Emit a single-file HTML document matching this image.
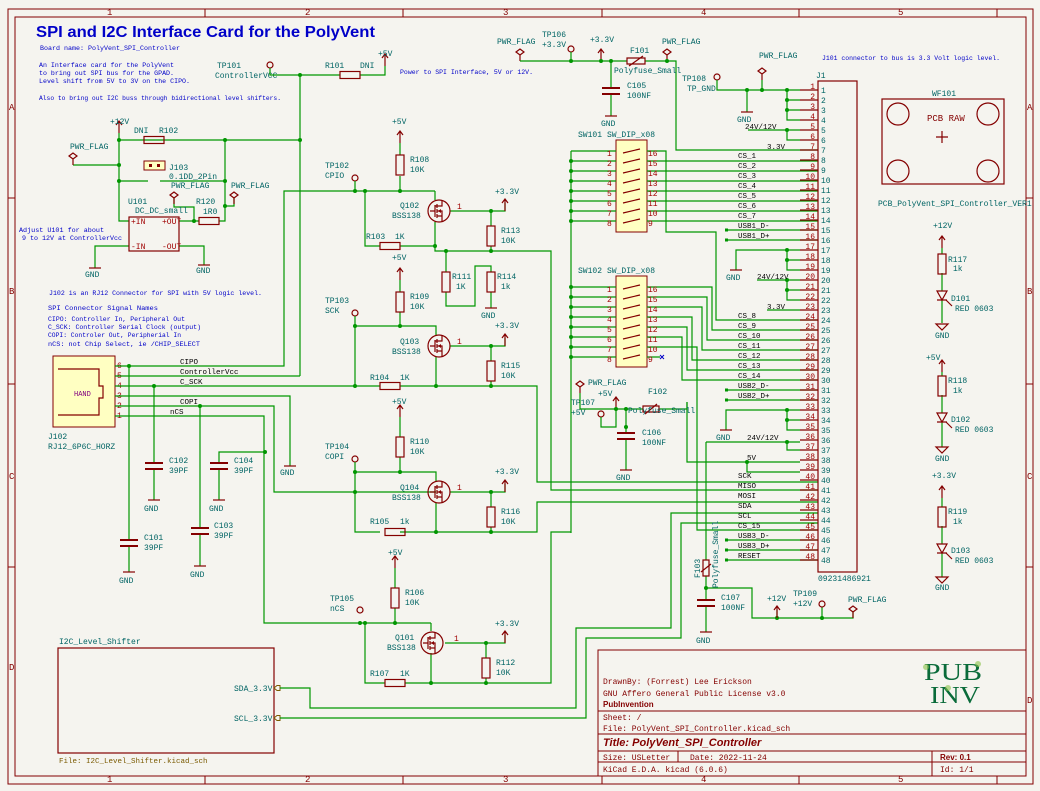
<!DOCTYPE html>
<html><head><meta charset="utf-8"><style>
html,body{margin:0;padding:0;background:#f5f4ef;}
svg{display:block;font-family:"Liberation Mono","DejaVu Sans Mono",monospace;}
.w{stroke:#009600;stroke-width:1.2;fill:none}
.c{stroke:#840000;stroke-width:1.2;fill:none}
.b{stroke:#840000;stroke-width:1;fill:none}
.t{fill:#006464;font-size:8px}
.n{fill:#0000c8;font-size:6.6px}
.k{fill:#000;font-size:7.5px}
.p{fill:#a00000;font-size:8px}
.r{fill:#840000;font-size:9px}
</style></head><body>
<svg width="1040" height="791" viewBox="0 0 1040 791" xmlns="http://www.w3.org/2000/svg">
<defs>
<g id="rv"><rect x="-4" y="-10" width="8" height="20" class="c"/></g>
<g id="rh"><rect x="-10" y="-3.5" width="20" height="7" class="c"/></g>
<g id="gnd"><line x1="-6" y1="0" x2="6" y2="0" class="c"/></g>
<g id="up"><path d="M0,0 V-12 M-3,-8 L0,-12 L3,-8" class="c"/></g>
<g id="flag"><path d="M0,0 V-6 M-4,-9 L0,-12 L4,-9 L0,-6 Z" class="c"/></g>
<g id="tp"><circle cx="0" cy="-3" r="3" class="c"/></g>
<g id="dot"><circle r="2" fill="#009600"/></g>
<g id="cap"><path d="M-9,-3 H9 M-9,3 H9" stroke="#840000" stroke-width="2"/></g>
<g id="q"><circle r="11" class="c"/><path d="M-4,-6 V6 M-2,-7 V-3 M-2,-2 V2 M-2,3 V7 M-2,-5 H-4 M-2,5 H3 V11 M-2,-5 H3 V-11 M-2,0 H3 V5 M-6,0 H-9 M-4,0 H-9" class="c"/><path d="M-1,0 L2,-2 L2,2 Z" fill="#840000"/></g>
<g id="led"><path d="M-5,-5 H5 L0,4 Z M-5,4 H5" class="c"/><path d="M4,4 L8,8 M6,6 L10,10" class="c"/></g>
<g id="gtri"><path d="M-6,0 H6 L0,6 Z" class="c"/></g>
</defs>

<!-- borders -->
<rect x="8" y="9" width="1025" height="775" class="b"/>
<rect x="15" y="17" width="1011" height="759" class="b"/>
<g class="b">
<path d="M205,9V17 M403,9V17 M602,9V17 M799,9V17 M997,9V17 M205,776V784 M403,776V784 M602,776V784 M799,776V784 M997,776V784 M8,198H15 M8,384H15 M8,567H15 M1026,198H1033 M1026,384H1033 M1026,567H1033"/>
</g>
<g class="r" font-size="8">
<text x="107" y="15">1</text><text x="305" y="15">2</text><text x="503" y="15">3</text><text x="701" y="15">4</text><text x="898" y="15">5</text>
<text x="107" y="782">1</text><text x="305" y="782">2</text><text x="503" y="782">3</text><text x="701" y="782">4</text><text x="898" y="782">5</text>
<text x="9" y="110">A</text><text x="9" y="294">B</text><text x="9" y="479">C</text><text x="9" y="670">D</text>
<text x="1027" y="110">A</text><text x="1027" y="294">B</text><text x="1027" y="479">C</text><text x="1027" y="703">D</text>
</g>

<!-- notes -->
<text x="36" y="37" fill="#0000c8" font-size="16" font-weight="bold" font-family="Liberation Sans,sans-serif" textLength="339" lengthAdjust="spacingAndGlyphs">SPI and I2C Interface Card for the PolyVent</text>
<text x="40" y="50" class="n" textLength="140" lengthAdjust="spacingAndGlyphs">Board name: PolyVent_SPI_Controller</text>
<text x="39" y="67" class="n" textLength="135" lengthAdjust="spacingAndGlyphs">An Interface card for the PolyVent</text>
<text x="39" y="75" class="n" textLength="135" lengthAdjust="spacingAndGlyphs">to bring out SPI bus for the GPAD.</text>
<text x="39" y="83" class="n" textLength="151" lengthAdjust="spacingAndGlyphs">Level shift from 5V to 3V on the CIPO.</text>
<text x="39" y="100" class="n" textLength="242" lengthAdjust="spacingAndGlyphs">Also to bring out I2C buss through bidirectional level shifters.</text>
<text x="400" y="74" class="n" textLength="133" lengthAdjust="spacingAndGlyphs">Power to SPI Interface, 5V or 12V.</text>
<text x="19" y="232" class="n" textLength="85" lengthAdjust="spacingAndGlyphs">Adjust U101 for about</text>
<text x="22" y="240" class="n" textLength="100" lengthAdjust="spacingAndGlyphs">9 to 12V at ControllerVcc</text>
<text x="49" y="295" class="n" textLength="213" lengthAdjust="spacingAndGlyphs">J102 is an RJ12 Connector for SPI with 5V logic level.</text>
<text x="48" y="310" class="n" textLength="110" lengthAdjust="spacingAndGlyphs">SPI Connector Signal Names</text>
<text x="48" y="321" class="n" textLength="137" lengthAdjust="spacingAndGlyphs">CIPO: Controller In, Peripheral Out</text>
<text x="48" y="329" class="n" textLength="153" lengthAdjust="spacingAndGlyphs">C_SCK: Controller Serial Clock (output)</text>
<text x="48" y="337" class="n" textLength="133" lengthAdjust="spacingAndGlyphs">COPI: Controler Out, Peripherial In</text>
<text x="48" y="346" class="n" textLength="152" lengthAdjust="spacingAndGlyphs">nCS: not Chip Select, ie /CHIP_SELECT</text>
<text x="822" y="60" class="n" textLength="178" lengthAdjust="spacingAndGlyphs">J101 connector to bus is 3.3 Volt logic level.</text>

<!-- top-left power section -->
<use href="#tp" x="270" y="68"/>
<text x="217" y="68" class="t">TP101</text><text x="215" y="78" class="t">ControllerVCC</text>
<path class="w" d="M270,68V75H340 M360,75H385V66 M300,75V376 M119,140H300 M119,133V221H129 M73,165H119 M119,181H148 M160,181H225 M225,140V221H219 M179,221H199 M174,198V207H194V221 M234,198V206H225 M129,246H95V268 M179,246H204V265"/>
<use href="#rh" x="350" y="75"/><use href="#up" x="385" y="66"/>
<text x="325" y="68" class="t">R101</text><text x="360" y="68" class="t">DNI</text><text x="378" y="56" class="t">+5V</text>
<use href="#dot" x="300" y="75"/><use href="#dot" x="300" y="140"/><use href="#dot" x="225" y="140"/><use href="#dot" x="119" y="140"/><use href="#dot" x="119" y="165"/><use href="#dot" x="119" y="181"/><use href="#dot" x="225" y="181"/><use href="#dot" x="225" y="206"/><use href="#dot" x="194" y="221"/>
<use href="#rh" x="154" y="140"/><use href="#up" x="119" y="133"/>
<text x="110" y="124" class="t">+12V</text><text x="134" y="133" class="t">DNI</text><text x="159" y="133" class="t">R102</text>
<use href="#flag" x="73" y="165"/><text x="70" y="149" class="t">PWR_FLAG</text>
<rect x="144" y="161" width="21" height="9" fill="#ffffc2" stroke="#840000"/><rect x="149" y="164" width="3" height="3" fill="#840000"/><rect x="157" y="164" width="3" height="3" fill="#840000"/>
<text x="169" y="170" class="t">J103</text><text x="169" y="179" class="t">0.1DD_2Pin</text>
<use href="#flag" x="174" y="204"/><text x="171" y="188" class="t">PWR_FLAG</text>
<use href="#flag" x="234" y="204"/><text x="231" y="188" class="t">PWR_FLAG</text>
<rect x="129" y="217" width="50" height="34" class="c"/>
<text x="128" y="204" class="t" font-size="9">U101</text><text x="135" y="213" class="t" font-size="5">DC_DC_small</text>
<text x="131" y="224" class="p" font-size="5.5">+IN</text><text x="162" y="224" class="p" font-size="5.5">+OUT</text><text x="131" y="249" class="p" font-size="5.5">-IN</text><text x="162" y="249" class="p" font-size="5.5">-OUT</text>
<use href="#rh" x="209" y="221"/><text x="196" y="204" class="t">R120</text><text x="203" y="214" class="t">1R0</text>
<use href="#gnd" x="95" y="268"/><text x="85" y="277" class="t" font-size="9">GND</text>
<use href="#gnd" x="204" y="265"/><text x="196" y="273" class="t" font-size="9">GND</text>

<!-- J102 -->
<rect x="53" y="356" width="62" height="71" fill="#ffffc2" stroke="#840000"/>
<path d="M58,369H99V386H103V398H99V415H58" class="c"/>
<text x="74" y="396" fill="#800080" font-size="7">HAND</text>
<text x="48" y="439" class="t">J102</text><text x="48" y="449" class="t">RJ12_6P6C_HORZ</text>
<g class="p"><text x="117" y="368">6</text><text x="117" y="378">5</text><text x="117" y="388">4</text><text x="117" y="398">3</text><text x="117" y="408">2</text><text x="117" y="418">1</text></g>
<path class="w" d="M115,366H284V191H435 M115,376H300 M115,386H380 M400,386H537V482H818 M115,396H290V466 M115,406H274V492H436 M115,416H264V623H431 M129,366V540 M129,546V572 M154,386V463 M154,469V500 M200,406V528 M200,534V566 M265,452H219V463 M219,469V500"/>
<text x="180" y="364" class="k">CIPO</text><text x="180" y="374" class="k">ControllerVcc</text><text x="180" y="384" class="k">C_SCK</text><text x="180" y="404" class="k">COPI</text><text x="170" y="414" class="k">nCS</text>
<use href="#dot" x="129" y="366"/><use href="#dot" x="154" y="386"/><use href="#dot" x="200" y="406"/><use href="#dot" x="265" y="452"/>
<use href="#cap" x="129" y="543"/><text x="144" y="540" class="t">C101</text><text x="144" y="550" class="t">39PF</text>
<use href="#cap" x="154" y="466"/><text x="169" y="463" class="t">C102</text><text x="169" y="473" class="t">39PF</text>
<use href="#cap" x="200" y="531"/><text x="214" y="528" class="t">C103</text><text x="214" y="538" class="t">39PF</text>
<use href="#cap" x="219" y="466"/><text x="234" y="463" class="t">C104</text><text x="234" y="473" class="t">39PF</text>
<use href="#gnd" x="129" y="572"/><text x="119" y="583" class="t" font-size="9">GND</text>
<use href="#gnd" x="154" y="500"/><text x="144" y="511" class="t" font-size="9">GND</text>
<use href="#gnd" x="200" y="566"/><text x="190" y="577" class="t" font-size="9">GND</text>
<use href="#gnd" x="219" y="500"/><text x="209" y="511" class="t" font-size="9">GND</text>
<use href="#gnd" x="290" y="466"/><text x="280" y="475" class="t" font-size="9">GND</text>

<!-- Q102 block -->
<use href="#tp" x="355" y="181"/><text x="325" y="168" class="t">TP102</text><text x="325" y="178" class="t">CPIO</text>
<path class="w" d="M355,181V191 M400,191V176 M400,155V143 M365,191V246H380 M400,246H435 M435,200V191 M435,222V251H551V490H818 M450,211H491H505V203 M491,211V226 M491,246V251 M446,251V272 M446,292V306H475V266H491V272 M491,292V308"/>
<use href="#dot" x="355" y="191"/><use href="#dot" x="365" y="191"/><use href="#dot" x="400" y="191"/><use href="#dot" x="435" y="246"/><use href="#dot" x="446" y="251"/><use href="#dot" x="491" y="251"/><use href="#dot" x="491" y="211"/>
<use href="#rv" x="400" y="165"/><use href="#up" x="400" y="143"/><text x="392" y="124" class="t">+5V</text><text x="410" y="162" class="t">R108</text><text x="410" y="172" class="t">10K</text>
<use href="#q" x="439" y="211"/><text x="400" y="208" class="t">Q102</text><text x="392" y="218" class="t">BSS138</text><text x="457" y="209" class="p">1</text>
<use href="#up" x="505" y="211"/><text x="495" y="194" class="t">+3.3V</text>
<use href="#rv" x="491" y="236"/><text x="501" y="233" class="t">R113</text><text x="501" y="243" class="t">10K</text>
<use href="#rh" x="390" y="246"/><text x="366" y="239" class="t">R103</text><text x="395" y="239" class="t">1K</text>
<use href="#rv" x="446" y="282"/><text x="452" y="279" class="t">R111</text><text x="456" y="289" class="t">1K</text>
<use href="#rv" x="491" y="282"/><text x="497" y="279" class="t">R114</text><text x="501" y="289" class="t">1k</text>
<use href="#gnd" x="491" y="308"/><text x="481" y="318" class="t" font-size="9">GND</text>

<!-- Q103 block -->
<text x="392" y="260" class="t">+5V</text><use href="#up" x="400" y="280"/>
<use href="#tp" x="355" y="316"/><text x="325" y="303" class="t">TP103</text><text x="325" y="313" class="t">SCK</text>
<path class="w" d="M400,280V292 M400,312V326 M355,316V386 M355,326H436V336 M436,357V386 M450,346H491H505V338 M491,346V361 M491,381V386"/>
<use href="#rv" x="400" y="302"/><text x="410" y="299" class="t">R109</text><text x="410" y="309" class="t">10K</text>
<use href="#q" x="439" y="346"/><text x="400" y="344" class="t">Q103</text><text x="392" y="354" class="t">BSS138</text><text x="457" y="344" class="p">1</text>
<use href="#up" x="505" y="346"/><text x="495" y="328" class="t">+3.3V</text>
<use href="#rv" x="491" y="371"/><text x="501" y="368" class="t">R115</text><text x="501" y="378" class="t">10K</text>
<use href="#rh" x="390" y="386"/><text x="370" y="380" class="t">R104</text><text x="400" y="380" class="t">1K</text>
<use href="#dot" x="355" y="326"/><use href="#dot" x="400" y="326"/><use href="#dot" x="355" y="386"/><use href="#dot" x="436" y="386"/><use href="#dot" x="491" y="386"/><use href="#dot" x="491" y="346"/>

<!-- Q104 block -->
<text x="392" y="404" class="t">+5V</text><use href="#up" x="400" y="417"/>
<use href="#tp" x="355" y="462"/><text x="325" y="449" class="t">TP104</text><text x="325" y="459" class="t">COPI</text>
<path class="w" d="M400,417V437 M400,457V472 M355,462V532H380 M355,472H436V482 M436,503V532 M400,532H537V502H818 M450,492H491H505V484 M491,492V507 M491,527V532"/>
<use href="#rv" x="400" y="447"/><text x="410" y="444" class="t">R110</text><text x="410" y="454" class="t">10K</text>
<use href="#q" x="439" y="492"/><text x="400" y="490" class="t">Q104</text><text x="392" y="500" class="t">BSS138</text><text x="457" y="490" class="p">1</text>
<use href="#up" x="505" y="492"/><text x="495" y="474" class="t">+3.3V</text>
<use href="#rv" x="491" y="517"/><text x="501" y="514" class="t">R116</text><text x="501" y="524" class="t">10K</text>
<use href="#rh" x="395" y="532"/><text x="370" y="524" class="t">R105</text><text x="400" y="524" class="t">1k</text>
<use href="#dot" x="355" y="472"/><use href="#dot" x="400" y="472"/><use href="#dot" x="355" y="492"/><use href="#dot" x="436" y="532"/><use href="#dot" x="491" y="532"/><use href="#dot" x="491" y="492"/>

<!-- Q101 block -->
<text x="388" y="555" class="t">+5V</text><use href="#up" x="395" y="568"/>
<use href="#tp" x="360" y="613"/><text x="330" y="601" class="t">TP105</text><text x="330" y="611" class="t">nCS</text>
<path class="w" d="M395,568V588 M395,608V623 M365,623V683H385 M405,683H551V532H571 M431,623V631 M431,653V683 M445,643H486H505V635 M486,643V658 M486,678V683"/>
<use href="#rv" x="395" y="598"/><text x="405" y="595" class="t">R106</text><text x="405" y="605" class="t">10K</text>
<use href="#q" x="432" y="643"/><text x="395" y="640" class="t">Q101</text><text x="387" y="650" class="t">BSS138</text><text x="454" y="641" class="p">1</text>
<use href="#up" x="505" y="643"/><text x="495" y="626" class="t">+3.3V</text>
<use href="#rv" x="486" y="668"/><text x="496" y="665" class="t">R112</text><text x="496" y="675" class="t">10K</text>
<use href="#rh" x="395" y="683"/><text x="370" y="676" class="t">R107</text><text x="400" y="676" class="t">1K</text>
<use href="#dot" x="360" y="623"/><use href="#dot" x="365" y="623"/><use href="#dot" x="395" y="623"/><use href="#dot" x="431" y="683"/><use href="#dot" x="486" y="683"/><use href="#dot" x="486" y="643"/>

<!-- I2C sheet -->
<rect x="58" y="648" width="216" height="105" class="c"/>
<text x="59" y="644" class="t">I2C_Level_Shifter</text>
<text x="59" y="763" fill="#7a5a00" font-size="7.5">File: I2C_Level_Shifter.kicad_sch</text>
<text x="234" y="691" class="t">SDA_3.3V</text><text x="234" y="721" class="t">SCL_3.3V</text>
<path d="M274,688l3,-2.5h3v5h-3z M274,718l3,-2.5h3v5h-3z" stroke="#7a5a00" fill="none"/>
<path class="w" d="M280,688H310V708H576V628H671V513H818 M280,718H586V638H681V523H818"/>

<!-- top power F101 -->
<use href="#flag" x="520" y="61"/><text x="497" y="44" class="t">PWR_FLAG</text>
<use href="#tp" x="571" y="52"/><text x="542" y="37" class="t">TP106</text><text x="542" y="47" class="t">+3.3V</text>
<use href="#up" x="601" y="61"/><text x="590" y="42" class="t">+3.3V</text>
<path class="w" d="M520,61H627 M645,61H676V150H818 M571,52V61 M611,61V88 M611,94V116"/>
<path d="M627,58H645V64H627Z M629,66L643,56" class="c"/>
<text x="630" y="53" class="t">F101</text><text x="614" y="73" class="t">Polyfuse_Small</text>
<use href="#flag" x="667" y="61"/><text x="662" y="44" class="t">PWR_FLAG</text>
<use href="#dot" x="571" y="61"/><use href="#dot" x="601" y="61"/><use href="#dot" x="611" y="61"/><use href="#dot" x="667" y="61"/>
<use href="#cap" x="611" y="91"/><text x="627" y="88" class="t">C105</text><text x="627" y="98" class="t">100NF</text>
<use href="#gnd" x="611" y="116"/><text x="601" y="126" class="t" font-size="9">GND</text>

<!-- J1 top GND -->
<use href="#tp" x="717" y="80"/><text x="682" y="81" class="t">TP108</text><text x="687" y="91" class="t">TP_GND</text>
<use href="#flag" x="762" y="80"/><text x="759" y="58" class="t">PWR_FLAG</text>
<path class="w" d="M717,80V90H800 M747,90V112 M762,80V90 M787,90V120H800 M787,100H800 M787,110H800 M748,130H800 M787,130V140H800 M736,270V250H800 M787,250V270H800 M787,260H800 M757,280H800 M787,280V300H800 M787,290H800 M767,310H800 M726,430V410H800 M787,410V430H800 M787,420H800 M706,442H800 M787,442V450H800 M687,402V462H800 M747,462V472H800"/>
<use href="#gnd" x="747" y="112"/><text x="737" y="122" class="t" font-size="9">GND</text>
<use href="#gnd" x="736" y="270"/><text x="726" y="280" class="t" font-size="9">GND</text>
<use href="#gnd" x="726" y="430"/><text x="716" y="440" class="t" font-size="9">GND</text>
<g fill="#009600"><circle cx="747" cy="90" r="2"/><circle cx="762" cy="90" r="2"/><circle cx="787" cy="90" r="2"/><circle cx="787" cy="100" r="2"/><circle cx="787" cy="110" r="2"/><circle cx="787" cy="130" r="2"/><circle cx="787" cy="250" r="2"/><circle cx="787" cy="260" r="2"/><circle cx="787" cy="280" r="2"/><circle cx="787" cy="290" r="2"/><circle cx="787" cy="410" r="2"/><circle cx="787" cy="420" r="2"/><circle cx="787" cy="442" r="2"/><circle cx="747" cy="462" r="2"/></g>
<text x="745" y="129" class="k">24V/12V</text><text x="767" y="149" class="k">3.3V</text>
<text x="757" y="279" class="k">24V/12V</text><text x="767" y="309" class="k">3.3V</text>
<text x="747" y="440" class="k">24V/12V</text><text x="747" y="460" class="k">5V</text>

<!-- SW101 / SW102 -->
<rect x="616" y="140" width="31" height="92" fill="#ffffc2" stroke="#840000"/>
<rect x="616" y="276" width="31" height="91" fill="#ffffc2" stroke="#840000"/>
<text x="578" y="137" class="t">SW101</text><text x="607" y="137" class="t">SW_DIP_x08</text>
<text x="578" y="273" class="t">SW102</text><text x="607" y="273" class="t">SW_DIP_x08</text>
<g class="c" stroke-width="0.8">
<path d="M623,153l17,-4 M623,163l17,-4 M623,173l17,-4 M623,183l17,-4 M623,193l17,-4 M623,203l17,-4 M623,213l17,-4 M623,223l17,-4"/>
<path d="M623,289l17,-4 M623,299l17,-4 M623,309l17,-4 M623,319l17,-4 M623,329l17,-4 M623,339l17,-4 M623,349l17,-4 M623,359l17,-4"/>
</g>
<path class="w" d="M571,151V533 M571,151H616 M571,161H616 M571,171H616 M571,181H616 M571,191H616 M571,201H616 M571,211H616 M571,221H616 M571,287H616 M571,297H616 M571,307H616 M571,317H616 M571,327H616 M571,337H616 M571,347H616 M571,357H616
M647,151H666V232H716V320H818 M647,161H818 M647,171H818 M647,181H818 M647,191H818 M647,201H818 M647,211H818 M647,221H818
M647,287H712V330H818 M647,297H707V340H818 M647,307H702V350H818 M647,317H692V360H818 M647,327H687V370H818 M647,337H682V380H818 M647,347H697V530H818 M647,357H660"/>
<path d="M660,355l4,4 M664,355l-4,4" stroke="#0000c8"/>
<g fill="#009600"><circle cx="571" cy="161" r="2"/><circle cx="571" cy="171" r="2"/><circle cx="571" cy="181" r="2"/><circle cx="571" cy="191" r="2"/><circle cx="571" cy="201" r="2"/><circle cx="571" cy="211" r="2"/><circle cx="571" cy="221" r="2"/><circle cx="571" cy="287" r="2"/><circle cx="571" cy="297" r="2"/><circle cx="571" cy="307" r="2"/><circle cx="571" cy="317" r="2"/><circle cx="571" cy="327" r="2"/><circle cx="571" cy="337" r="2"/><circle cx="571" cy="347" r="2"/><circle cx="571" cy="357" r="2"/></g>
<g class="p" font-size="7.5">
<text x="607" y="156">1</text><text x="607" y="166">2</text><text x="607" y="176">3</text><text x="607" y="186">4</text><text x="607" y="196">5</text><text x="607" y="206">6</text><text x="607" y="216">7</text><text x="607" y="226">8</text>
<text x="648" y="156">16</text><text x="648" y="166">15</text><text x="648" y="176">14</text><text x="648" y="186">13</text><text x="648" y="196">12</text><text x="648" y="206">11</text><text x="648" y="216">10</text><text x="648" y="226">9</text>
<text x="607" y="292">1</text><text x="607" y="302">2</text><text x="607" y="312">3</text><text x="607" y="322">4</text><text x="607" y="332">5</text><text x="607" y="342">6</text><text x="607" y="352">7</text><text x="607" y="362">8</text>
<text x="648" y="292">16</text><text x="648" y="302">15</text><text x="648" y="312">14</text><text x="648" y="322">13</text><text x="648" y="332">12</text><text x="648" y="342">11</text><text x="648" y="352">10</text><text x="648" y="362">9</text>
</g>

<!-- USB stubs etc -->
<path class="w" d="M727,230H818 M727,240H818 M727,390H818 M727,400H818 M727,540H818 M727,550H818 M727,560H818"/>
<g fill="#009600"><rect x="725" y="228.5" width="3" height="3"/><rect x="725" y="238.5" width="3" height="3"/><rect x="725" y="388.5" width="3" height="3"/><rect x="725" y="398.5" width="3" height="3"/><rect x="725" y="538.5" width="3" height="3"/><rect x="725" y="548.5" width="3" height="3"/><rect x="725" y="558.5" width="3" height="3"/></g>

<!-- J1 labels -->
<g class="k">
<text x="738" y="158">CS_1</text><text x="738" y="168">CS_2</text><text x="738" y="178">CS_3</text><text x="738" y="188">CS_4</text><text x="738" y="198">CS_5</text><text x="738" y="208">CS_6</text><text x="738" y="218">CS_7</text>
<text x="738" y="228">USB1_D-</text><text x="738" y="238">USB1_D+</text>
<text x="738" y="318">CS_8</text><text x="738" y="328">CS_9</text><text x="738" y="338">CS_10</text><text x="738" y="348">CS_11</text><text x="738" y="358">CS_12</text><text x="738" y="368">CS_13</text><text x="738" y="378">CS_14</text>
<text x="738" y="388">USB2_D-</text><text x="738" y="398">USB2_D+</text>
<text x="738" y="478">SCK</text><text x="738" y="488">MISO</text><text x="738" y="498">MOSI</text><text x="738" y="508">SDA</text><text x="738" y="518">SCL</text><text x="738" y="528">CS_15</text>
<text x="738" y="538">USB3_D-</text><text x="738" y="548">USB3_D+</text><text x="738" y="558">RESET</text>
</g>

<!-- J1 -->
<rect x="818" y="81" width="39" height="491" class="c"/>
<text x="816" y="78" class="t" font-size="10">J1</text>
<text x="818" y="581" class="t" font-size="9.5">09231486921</text>
<g class="c" stroke-width="1">
<path d="M800,90H818M800,100H818M800,110H818M800,120H818M800,130H818M800,140H818M800,150H818M800,160H818M800,170H818M800,180H818M800,190H818M800,200H818M800,210H818M800,220H818M800,230H818M800,240H818M800,250H818M800,260H818M800,270H818M800,280H818M800,290H818M800,300H818M800,310H818M800,320H818M800,330H818M800,340H818M800,350H818M800,360H818M800,370H818M800,380H818M800,390H818M800,400H818M800,410H818M800,420H818M800,430H818M800,440H818M800,450H818M800,460H818M800,470H818M800,480H818M800,490H818M800,500H818M800,510H818M800,520H818M800,530H818M800,540H818M800,550H818M800,560H818"/>
</g>
<g class="p" font-size="7.5" text-anchor="end">
<text x="815" y="89">1</text><text x="815" y="99">2</text><text x="815" y="109">3</text><text x="815" y="119">4</text><text x="815" y="129">5</text><text x="815" y="139">6</text><text x="815" y="149">7</text><text x="815" y="159">8</text><text x="815" y="169">9</text><text x="815" y="179">10</text><text x="815" y="189">11</text><text x="815" y="199">12</text><text x="815" y="209">13</text><text x="815" y="219">14</text><text x="815" y="229">15</text><text x="815" y="239">16</text><text x="815" y="249">17</text><text x="815" y="259">18</text><text x="815" y="269">19</text><text x="815" y="279">20</text><text x="815" y="289">21</text><text x="815" y="299">22</text><text x="815" y="309">23</text><text x="815" y="319">24</text><text x="815" y="329">25</text><text x="815" y="339">26</text><text x="815" y="349">27</text><text x="815" y="359">28</text><text x="815" y="369">29</text><text x="815" y="379">30</text><text x="815" y="389">31</text><text x="815" y="399">32</text><text x="815" y="409">33</text><text x="815" y="419">34</text><text x="815" y="429">35</text><text x="815" y="439">36</text><text x="815" y="449">37</text><text x="815" y="459">38</text><text x="815" y="469">39</text><text x="815" y="479">40</text><text x="815" y="489">41</text><text x="815" y="499">42</text><text x="815" y="509">43</text><text x="815" y="519">44</text><text x="815" y="529">45</text><text x="815" y="539">46</text><text x="815" y="549">47</text><text x="815" y="559">48</text>
</g>
<g class="t" font-size="7.5">
<text x="821" y="93">1</text><text x="821" y="103">2</text><text x="821" y="113">3</text><text x="821" y="123">4</text><text x="821" y="133">5</text><text x="821" y="143">6</text><text x="821" y="153">7</text><text x="821" y="163">8</text><text x="821" y="173">9</text><text x="821" y="183">10</text><text x="821" y="193">11</text><text x="821" y="203">12</text><text x="821" y="213">13</text><text x="821" y="223">14</text><text x="821" y="233">15</text><text x="821" y="243">16</text><text x="821" y="253">17</text><text x="821" y="263">18</text><text x="821" y="273">19</text><text x="821" y="283">20</text><text x="821" y="293">21</text><text x="821" y="303">22</text><text x="821" y="313">23</text><text x="821" y="323">24</text><text x="821" y="333">25</text><text x="821" y="343">26</text><text x="821" y="353">27</text><text x="821" y="363">28</text><text x="821" y="373">29</text><text x="821" y="383">30</text><text x="821" y="393">31</text><text x="821" y="403">32</text><text x="821" y="413">33</text><text x="821" y="423">34</text><text x="821" y="433">35</text><text x="821" y="443">36</text><text x="821" y="453">37</text><text x="821" y="463">38</text><text x="821" y="473">39</text><text x="821" y="483">40</text><text x="821" y="493">41</text><text x="821" y="503">42</text><text x="821" y="513">43</text><text x="821" y="523">44</text><text x="821" y="533">45</text><text x="821" y="543">46</text><text x="821" y="553">47</text><text x="821" y="563">48</text>
</g>

<!-- F102 area -->
<use href="#flag" x="580" y="393"/><text x="588" y="385" class="t">PWR_FLAG</text>
<use href="#up" x="616" y="409"/><text x="598" y="396" class="t">+5V</text>
<use href="#tp" x="601" y="417"/><text x="571" y="405" class="t">TP107</text><text x="571" y="415" class="t">+5V</text>
<path class="w" d="M580,393V409H643 M659,409H687V402 M601,417V427H616V409 M626,409V433 M626,439V470"/>
<path d="M643,406H659V412H643Z M645,414L657,404" class="c"/>
<text x="648" y="394" class="t">F102</text><text x="628" y="413" class="t">Polyfuse_Small</text>
<use href="#dot" x="616" y="409"/><use href="#dot" x="626" y="409"/><use href="#dot" x="626" y="427"/>
<use href="#cap" x="626" y="436"/><text x="642" y="435" class="t">C106</text><text x="642" y="445" class="t">100NF</text>
<use href="#gnd" x="626" y="470"/><text x="616" y="480" class="t" font-size="9">GND</text>

<!-- F103 area -->
<path class="w" d="M706,442V560 M706,576V600 M706,606V632 M706,588H752V618H853V611 M777,618V610 M822,618V607"/>
<path d="M703,560H709V576H703Z M701,572L711,564" class="c"/>
<text x="700" y="578" class="t" transform="rotate(-90 700 578)">F103</text>
<text x="718" y="588" class="t" transform="rotate(-90 718 588)">Polyfuse_Small</text>
<use href="#dot" x="706" y="588"/><use href="#dot" x="777" y="618"/><use href="#dot" x="822" y="618"/>
<use href="#cap" x="706" y="603"/><text x="721" y="600" class="t">C107</text><text x="721" y="610" class="t">100NF</text>
<use href="#gnd" x="706" y="632"/><text x="696" y="643" class="t" font-size="9">GND</text>
<use href="#up" x="777" y="618"/><text x="767" y="601" class="t">+12V</text>
<use href="#tp" x="822" y="607"/><text x="793" y="596" class="t">TP109</text><text x="793" y="606" class="t">+12V</text>
<use href="#flag" x="853" y="618"/><text x="848" y="602" class="t">PWR_FLAG</text>

<!-- WF101 -->
<rect x="882" y="99" width="122" height="85" class="c"/>
<g class="c"><circle cx="898" cy="114" r="11"/><circle cx="988" cy="114" r="11"/><circle cx="898" cy="171" r="11"/><circle cx="988" cy="171" r="11"/><path d="M936,137H948M942,131V143"/></g>
<text x="927" y="121" class="r" font-size="7">PCB RAW</text>
<text x="932" y="96" class="t">WF101</text>
<text x="878" y="206" class="t" font-size="7.5">PCB_PolyVent_SPI_Controller_VER1</text>

<!-- LEDs -->
<g>
<text x="933" y="228" class="t">+12V</text><use href="#up" x="942" y="248"/>
<path class="w" d="M942,248V254 M942,273V291 M942,300V323"/>
<use href="#rv" x="942" y="264"/><text x="948" y="262" class="t">R117</text><text x="953" y="271" class="t">1k</text>
<use href="#led" x="942" y="296"/><text x="951" y="301" class="t" font-size="9">D101</text><text x="955" y="311" class="t" font-size="9">RED 0603</text>
<use href="#gtri" x="942" y="324"/><text x="935" y="338" class="t">GND</text>

<text x="926" y="360" class="t">+5V</text><use href="#up" x="942" y="372"/>
<path class="w" d="M942,372V376 M942,395V413 M942,422V447"/>
<use href="#rv" x="942" y="386"/><text x="948" y="383" class="t">R118</text><text x="953" y="393" class="t">1k</text>
<use href="#led" x="942" y="418"/><text x="951" y="422" class="t" font-size="9">D102</text><text x="955" y="432" class="t" font-size="9">RED 0603</text>
<use href="#gtri" x="942" y="447"/><text x="935" y="461" class="t">GND</text>

<text x="932" y="478" class="t">+3.3V</text><use href="#up" x="942" y="498"/>
<path class="w" d="M942,498V507 M942,526V544 M942,553V577"/>
<use href="#rv" x="942" y="517"/><text x="948" y="514" class="t">R119</text><text x="953" y="524" class="t">1k</text>
<use href="#led" x="942" y="549"/><text x="951" y="553" class="t" font-size="9">D103</text><text x="955" y="563" class="t" font-size="9">RED 0603</text>
<use href="#gtri" x="942" y="577"/><text x="935" y="590" class="t">GND</text>
</g>

<!-- title block -->
<g class="b">
<rect x="598" y="650" width="428" height="126"/>
<path d="M598,711H1026 M598,734H1026 M598,751H1026 M598,762H1026 M678,751V762 M932,751V776"/>
</g>
<g fill="#840000" font-size="8" font-family="Liberation Mono,monospace">
<text x="603" y="684">DrawnBy: (Forrest) Lee Erickson</text>
<text x="603" y="696">GNU Affero General Public License v3.0</text>
<text x="603" y="707" font-weight="bold" font-family="Liberation Sans,sans-serif">PubInvention</text>
<text x="603" y="720">Sheet: /</text>
<text x="603" y="731">File: PolyVent_SPI_Controller.kicad_sch</text>
<text x="603" y="746" font-size="11" font-weight="bold" font-style="italic" font-family="Liberation Sans,sans-serif">Title: PolyVent_SPI_Controller</text>
<text x="603" y="760">Size: USLetter</text>
<text x="690" y="760">Date: 2022-11-24</text>
<text x="603" y="772">KiCad E.D.A.  kicad (6.0.6)</text>
<text x="940" y="760" font-weight="bold" font-family="Liberation Sans,sans-serif">Rev: 0.1</text>
<text x="940" y="772">Id: 1/1</text>
</g>
<g fill="#0a6b3a" font-family="Liberation Serif,serif" font-size="24">
<text x="924" y="680" textLength="58" lengthAdjust="spacingAndGlyphs">PUB</text>
<text x="930" y="703" textLength="50" lengthAdjust="spacingAndGlyphs">INV</text>
</g>
<g fill="#8bc34a" opacity="0.6"><circle cx="926" cy="667" r="3"/><circle cx="978" cy="664" r="3"/><circle cx="948" cy="688" r="3"/></g>
</svg>
</body></html>
